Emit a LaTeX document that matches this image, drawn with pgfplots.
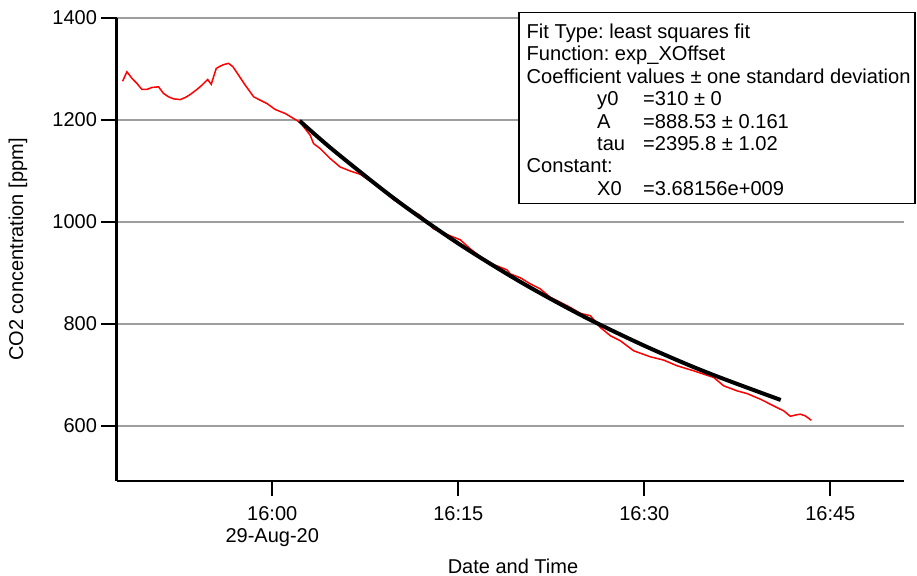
\documentclass[border=0pt]{standalone}
\usepackage{pgfplots}
\pgfplotsset{compat=1.18}
\usepackage{fontspec}
\setmainfont{Liberation Sans}
\frenchspacing
\newcommand{\ff}{\fontsize{20bp}{21.5bp}\selectfont}
\newcommand{\lf}{\fontsize{20.1bp}{21.5bp}\selectfont}
\begin{document}
\begin{tikzpicture}
\path[use as bounding box] (0,0) rectangle (917bp,576bp);
\begin{axis}[
  at={(116.5bp,95bp)}, anchor=south west,
  scale only axis, width=787.5bp, height=463bp,
  xmin=-12.56, xmax=50.94, ymin=492, ymax=1400,
  axis x line*=bottom, axis y line*=left,
  axis line style={line width=2bp, black},
  tick style={line width=2bp, black},
  tick align=outside, major tick length=15bp,
  xtick={0,15,30,45},
  xticklabels={{16:00\\29-Aug-20},16:15,16:30,16:45},
  xticklabel style={align=center, font=\ff, yshift=-7.5bp},
  ytick={600,800,1000,1200,1400},
  yticklabel style={font=\ff, xshift=-1bp},
  /pgf/number format/assume math mode=true,
  /pgf/number format/1000 sep={},
  ymajorgrids, grid style={line width=1.2bp, black!38},
  xlabel={Date and Time}, ylabel={CO2 concentration [ppm]},
  xlabel style={font=\ff, at={(rel axis cs:0.5,0)}, anchor=center, xshift=2.75bp, yshift=-85bp},
  ylabel style={font=\ff, at={(rel axis cs:0,0.5)}, anchor=center, yshift=98.5bp},
  clip=false,
]
\addplot[red, line width=1.5bp] coordinates {
(-12.07,1276) (-11.72,1294.5) (-11.31,1281.5) (-10.91,1271.6) (-10.51,1259.8)
(-10.10,1260) (-9.70,1263.8) (-9.17,1265) (-8.77,1252) (-8.36,1245.4)
(-7.96,1241.4) (-7.42,1240) (-7.02,1244) (-6.61,1250) (-6.07,1260)
(-5.67,1268.3) (-5.21,1279.5) (-4.92,1270) (-4.52,1301) (-4.19,1305.6)
(-3.87,1309) (-3.52,1311) (-3.17,1304.3) (-2.72,1288) (-2.18,1268.3)
(-1.50,1245.4) (-0.97,1238.8) (-0.43,1232.3) (0.24,1220.5) (1.05,1212.7)
(1.72,1202.9) (2.26,1195) (3.06,1170) (3.33,1153.7) (3.87,1143.9)
(4.68,1124.2) (5.48,1107.7) (6.29,1099.9) (7.10,1093.4) (7.90,1080)
(8.71,1068.4) (9.78,1043.6) (10.86,1027.9) (11.94,1012.8) (13.00,986.6)
(13.81,978) (15.16,965) (15.97,947.3) (16.77,932) (17.85,916.5)
(18.93,906) (19.19,898.2) (20.00,890.5) (20.81,878.6) (21.61,868.7)
(22.42,852.2) (23.23,842.4) (24.03,832.5) (24.84,820.8) (25.65,816.2)
(26.45,793.2) (27.26,776.9) (28.06,767.1) (29.14,747.4) (30.48,735.6)
(31.56,729.1) (32.64,718) (33.98,708.1) (35.60,695) (36.40,678.6)
(37.48,668.8) (38.28,663.5) (39.35,652.5) (40.43,639.3) (41.24,629.5)
(41.77,619) (42.31,622) (42.58,623) (42.98,619.7) (43.47,611)
};
\addplot[black, line width=4bp, smooth] coordinates {
(2.2,1198.5) (5,1139.2) (10,1042.9) (15,957.8) (20,882.6)
(25,816.0) (30,757.3) (35,705.3) (41,650.9)
};
\end{axis}
\draw[line width=1.3bp, fill=white] (519bp,372.7bp) rectangle (915bp,563.3bp);
\begin{scope}[every node/.style={anchor=base west, inner sep=0pt, font=\lf}]
\node at (526.5bp,537.5bp) {Fit Type: least squares fit};
\node at (526.5bp,515.1bp) {Function: exp\_XOffset};
\node at (526.5bp,492.7bp) {Coefficient values ± one standard deviation};
\node at (597bp,470.3bp) {y0};
\node at (643bp,470.3bp) {=310 ± 0};
\node at (597bp,447.9bp) {A};
\node at (643bp,447.9bp) {=888.53 ± 0.161};
\node at (597bp,425.5bp) {tau};
\node at (643bp,425.5bp) {=2395.8 ± 1.02};
\node at (526.5bp,403.1bp) {Constant:};
\node at (597bp,380.7bp) {X0};
\node at (643bp,380.7bp) {=3.68156e+009};
\end{scope}
\end{tikzpicture}
\end{document}
